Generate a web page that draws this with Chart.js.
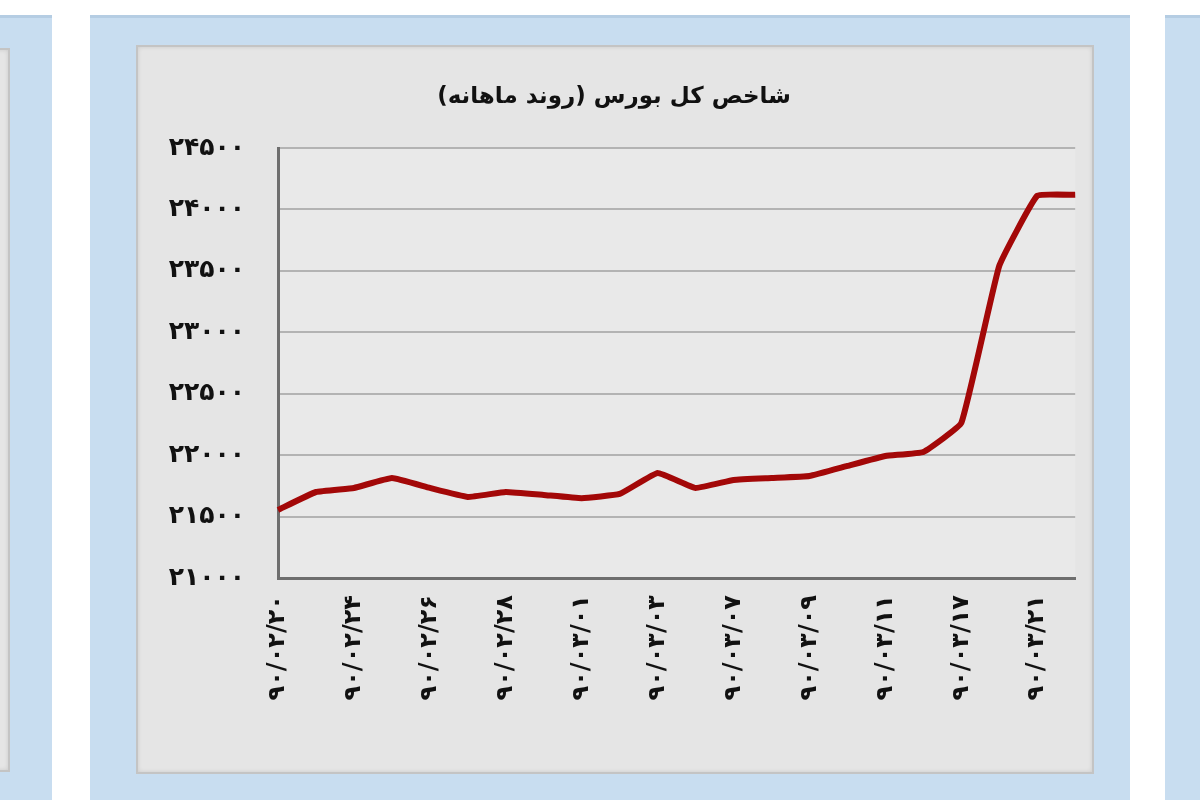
<!DOCTYPE html>
<html>
<head>
<meta charset="utf-8">
<script src="https://cdn.jsdelivr.net/npm/chart.js@4.4.1/dist/chart.umd.min.js"></script>
<style>
  html, body { margin: 0; padding: 0; background: #fff; }
  body { width: 1200px; height: 800px; position: relative; overflow: hidden; font-family: 'DejaVu Sans', sans-serif; }
  .panel { position: absolute; background: #c8ddf0; border-top: 3px solid #b5cde3; }
  .box { position: absolute; background: #e5e5e5; border: 2px solid #c4c4c4; box-shadow: inset 0 0 4px rgba(0,0,0,0.12); }
  #wrap { position: absolute; left: 140px; top: 48px; width: 981px; height: 722px; }
  #title { position: absolute; left: 404px; top: 80px; width: 420px; text-align: center; direction: rtl;
           font: bold 23px 'DejaVu Sans', sans-serif; color: #111; line-height: 30px; }
</style>
</head>
<body>
<div class="panel" style="left:0;top:15px;width:52px;height:785px;"></div>
<div class="box" style="left:-10px;top:48px;width:16px;height:720px;"></div>
<div class="panel" style="left:90px;top:15px;width:1040px;height:785px;"></div>
<div class="box" style="left:136px;top:45px;width:954px;height:725px;"></div>
<div class="panel" style="left:1165px;top:15px;width:35px;height:785px;"></div>
<div id="wrap"><canvas id="c"></canvas></div>
<div id="title"></div>
<script>
// شاخص کل بورس - روزهای معاملاتی
const dates = [
  '۹۰/۰۲/۲۰', '۹۰/۰۲/۲۱', '۹۰/۰۲/۲۴', '۹۰/۰۲/۲۵', '۹۰/۰۲/۲۶', '۹۰/۰۲/۲۷',
  '۹۰/۰۲/۲۸', '۹۰/۰۲/۳۱', '۹۰/۰۳/۰۱', '۹۰/۰۳/۰۲', '۹۰/۰۳/۰۳', '۹۰/۰۳/۰۴',
  '۹۰/۰۳/۰۷', '۹۰/۰۳/۰۸', '۹۰/۰۳/۰۹', '۹۰/۰۳/۱۰', '۹۰/۰۳/۱۱', '۹۰/۰۳/۱۶',
  '۹۰/۰۳/۱۷', '۹۰/۰۳/۱۸', '۹۰/۰۳/۲۱', '۹۰/۰۳/۲۲'
];
const indexValues = [
  21554, 21700, 21733, 21814, 21733, 21660,
  21700, 21676, 21650, 21684, 21855, 21733,
  21798, 21814, 21830, 21912, 21993, 22026,
  22262, 23541, 24111, 24119
];
const yMin = 21000, yMax = 24500, yStep = 500;
const titleText = 'شاخص کل بورس (روند ماهانه)';

const faDigits = '۰۱۲۳۴۵۶۷۸۹';
const toFa = n => String(n).replace(/[0-9]/g, d => faDigits[d]);

const plotBg = {
  id: 'plotBg',
  beforeDraw(chart) {
    const { ctx, chartArea: a } = chart;
    ctx.save();
    ctx.fillStyle = '#e9e9e9';
    ctx.fillRect(a.left, a.top, a.right - a.left, a.bottom - a.top);
    ctx.restore();
  }
};

document.addEventListener('DOMContentLoaded', () => {
  document.getElementById('title').textContent = titleText;
  const ctx = document.getElementById('c').getContext('2d');
  new Chart(ctx, {
    type: 'line',
    data: {
      labels: dates,
      datasets: [{
        data: indexValues,
        borderColor: '#a30808',
        borderWidth: 6,
        pointRadius: 0,
        tension: 0.1,
        fill: false
      }]
    },
    options: {
      responsive: true,
      maintainAspectRatio: false,
      animation: false,
      layout: { padding: { left: 4, right: 0, top: 100, bottom: 0 } },
      plugins: {
        legend: { display: false },
        tooltip: { enabled: false },
        title: { display: false }
      },
      scales: {
        x: {
          offset: false,
          grid: { display: false, drawTicks: false },
          border: { color: '#6e6e6e', width: 3 },
          afterFit: s => { s.height = 192; },
          ticks: {
            autoSkip: false,
            minRotation: 90,
            maxRotation: 90,
            padding: 17,
            color: '#111',
            font: { family: 'DejaVu Sans', size: 24, weight: 'bold' },
            callback: (v, i) => (i % 2 === 0 ? dates[i] : '')
          }
        },
        y: {
          min: yMin,
          max: yMax,
          afterFit: s => { s.width = 134; },
          grid: { color: '#b3b3b3', lineWidth: 2, drawTicks: false },
          border: { color: '#6e6e6e', width: 3 },
          ticks: {
            stepSize: yStep,
            padding: 33,
            color: '#111',
            font: { family: 'DejaVu Sans', size: 25, weight: 'bold' },
            callback: v => toFa(v)
          }
        }
      }
    },
    plugins: [plotBg]
  });
});
</script>
</body>
</html>
